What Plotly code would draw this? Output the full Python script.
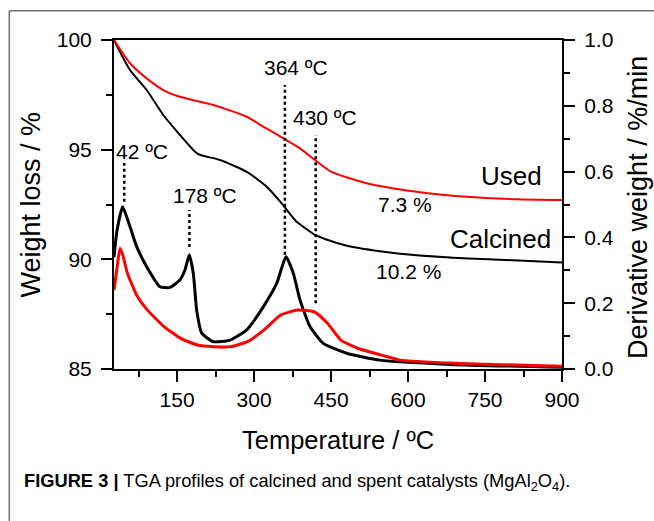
import plotly.graph_objects as go

# ---------------- data ----------------
calc_tga_T = [27, 58.2, 90.7, 123.1, 155.6, 184.8, 194.6, 233.5, 285.6, 324.5, 356.3, 370, 383.6,
              399.2, 418.7, 438.1, 483, 545.3, 584.2, 681.7, 779, 900]
calc_tga_w = [100, 98.63, 97.72, 96.58, 95.67, 94.91, 94.76, 94.53, 93.99, 93.31, 92.48, 92.07, 91.70,
              91.43, 91.11, 90.93, 90.61, 90.37, 90.26, 90.08, 89.98, 89.86]

used_tga_T = [27, 58.2, 90.7, 123.1, 155.6, 220.5, 285.6, 317.9, 357, 389.4, 418.7, 450,
              519.4, 616.8, 714.3, 811.7, 900]
used_tga_w = [100, 98.94, 98.25, 97.72, 97.41, 97.04, 96.50, 96.05, 95.52, 95.06, 94.53, 94.0,
              93.47, 93.08, 92.85, 92.74, 92.70]

calc_dtg_T = [27, 32.8, 43.8, 58.2, 71.2, 90.7, 116.6, 136.1, 155.6, 165.3, 173.7, 181.5, 188.1, 197.9,
              220.5, 253, 285.6, 317.9, 344, 362.1, 376.4, 389.4, 408.9, 434.8, 480.4, 545.3, 681.7, 900]
calc_dtg_d = [0.34, 0.42, 0.493, 0.432, 0.372, 0.311, 0.250, 0.248, 0.271, 0.301, 0.347, 0.291, 0.179, 0.109,
              0.083, 0.088, 0.119, 0.189, 0.260, 0.341, 0.291, 0.210, 0.129, 0.078, 0.048, 0.027, 0.014, 0.005]

used_dtg_T = [27, 32.3, 38.7, 44, 53.2, 72.7, 92.2, 124.5, 157.1, 189.6, 222, 254.6, 287.1, 319.5, 352,
              384.5, 417, 443, 469, 501.5, 546.8, 584, 699, 900]
used_dtg_d = [0.240, 0.30, 0.367, 0.347, 0.291, 0.220, 0.179, 0.129, 0.093, 0.073, 0.068, 0.068, 0.083, 0.119,
              0.164, 0.179, 0.174, 0.139, 0.088, 0.063, 0.043, 0.027, 0.017, 0.008]

peak_T = [47, 174, 360, 420]
peak_labels = ["42 ºC", "178 ºC", "364 ºC", "430 ºC"]

x_ticks = [150, 300, 450, 600, 750, 900]
y1_ticks = [85, 90, 95, 100]
y2_ticks = [0.0, 0.2, 0.4, 0.6, 0.8, 1.0]

# ---------------- figure ----------------
FONT = "Liberation Sans, Arial, sans-serif"
RED = "#ff0000"

fig = go.Figure()
fig.add_trace(go.Scatter(x=calc_dtg_T, y=calc_dtg_d, yaxis="y2", mode="lines",
                         line=dict(color="black", width=3, shape="spline", smoothing=0.5)))
fig.add_trace(go.Scatter(x=used_dtg_T, y=used_dtg_d, yaxis="y2", mode="lines",
                         line=dict(color=RED, width=3, shape="spline", smoothing=0.5)))
fig.add_trace(go.Scatter(x=calc_tga_T, y=calc_tga_w, mode="lines",
                         line=dict(color="black", width=2, shape="spline", smoothing=0.6)))
fig.add_trace(go.Scatter(x=used_tga_T, y=used_tga_w, mode="lines",
                         line=dict(color=RED, width=2, shape="spline", smoothing=0.6)))

# dotted peak markers (x in data, y in paper)
line_spans = [(0.508, 0.626), (0.371, 0.483), (0.347, 0.863), (0.200, 0.711)]
shapes = []
for T, (y0, y1) in zip(peak_T, line_spans):
    shapes.append(dict(type="line", xref="x", yref="paper", x0=T, x1=T, y0=y0, y1=y1,
                       line=dict(color="black", width=2.5, dash="dot")))
# outer figure frame (top + left)
shapes.append(dict(type="line", xref="paper", yref="paper", x0=-0.2337, x1=1.21, y0=1.0891, y1=1.0891,
                   line=dict(color="#707070", width=1.5)))
shapes.append(dict(type="line", xref="paper", yref="paper", x0=-0.2337, x1=-0.2337, y0=1.0891, y1=-0.47,
                   line=dict(color="#707070", width=1.5)))


def txt_ann(text, x, y, size, angle=0, family=FONT, xanchor="center"):
    return dict(text=text, x=x, y=y, xref="paper", yref="paper", showarrow=False,
                xanchor=xanchor, yanchor="middle", textangle=angle,
                font=dict(size=size, color="black", family=family))


ann = []
label_pos = [(0.0636, 0.660), (0.203, 0.526), (0.406, 0.916), (0.471, 0.764)]
for txt, (px, py) in zip(peak_labels, label_pos):
    ann.append(txt_ann(txt, px, py, 21))
for txt, px, py, sz in [("Used", 0.888, 0.587, 26), ("Calcined", 0.863, 0.395, 26),
                        ("7.3 %", 0.6496, 0.4985, 21), ("10.2 %", 0.658, 0.295, 21)]:
    ann.append(txt_ann(txt, px, py, sz))
# axis titles
ann.append(txt_ann("Weight loss / %", -0.1875, 0.5, 27, angle=-90))
ann.append(txt_ann("Derivative weight / %/min", 1.17, 0.49, 27, angle=-90))
ann.append(txt_ann("Temperature / ºC", 0.5, -0.216, 25.5))
# caption
ann.append(txt_ann("<b>FIGURE 3 |</b> TGA profiles of calcined and spent catalysts (MgAl<sub>2</sub>O<sub>4</sub>).",
                   -0.205, -0.343, 18.3, family="Liberation Sans Narrow, Arial Narrow, Liberation Sans, Arial",
                   xanchor="left"))

axis_common = dict(showgrid=False, zeroline=False, showline=True, linecolor="black", linewidth=2,
                   ticks="outside", tickcolor="black", tickwidth=2, ticklen=11,
                   tickfont=dict(size=21, color="black", family=FONT))

fig.update_layout(
    width=654, height=521,
    margin=dict(l=114, r=92, t=40, b=152),
    paper_bgcolor="white", plot_bgcolor="white",
    showlegend=False,
    shapes=shapes, annotations=ann,
    xaxis=dict(range=[27, 900], tickvals=x_ticks, mirror=True,
               minor=dict(dtick=75, tick0=0, ticks="outside", ticklen=6, tickwidth=2, tickcolor="black"),
               **axis_common),
    yaxis=dict(range=[85, 100], tickvals=y1_ticks, ticklabelstandoff=5,
               minor=dict(dtick=2.5, tick0=85, ticks="outside", ticklen=6, tickwidth=2, tickcolor="black"),
               **axis_common),
    yaxis2=dict(range=[0, 1], tickvals=y2_ticks, tickformat=".1f", overlaying="y", side="right",
                ticklabelstandoff=5,
                minor=dict(dtick=0.1, tick0=0, ticks="outside", ticklen=6, tickwidth=2, tickcolor="black"),
                **axis_common),
)

fig.write_html("out.html")
